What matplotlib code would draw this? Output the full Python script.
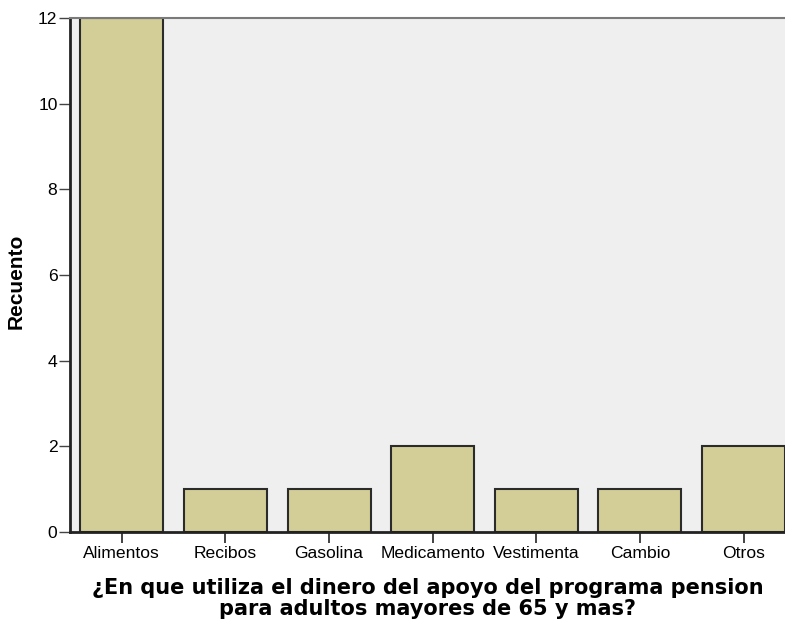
import numpy as np
import matplotlib
matplotlib.use("Agg")
import matplotlib.pyplot as plt

# uso del dinero del apoyo - recuento
categorias = ["Alimentos", "Recibos", "Gasolina", "Medicamento", "Vestimenta", "Cambio", "Otros"]
recuento = [12, 1, 1, 2, 1, 1, 2]
y_ticks = [0, 2, 4, 6, 8, 10, 12]

plt.rcParams['font.family'] = ['Liberation Sans', 'DejaVu Sans']

fig = plt.figure(figsize=(7.85, 6.21), dpi=100)
ax = fig.add_axes([70 / 785, 89 / 621, 715 / 785, 514 / 621])
ax.set_facecolor("#efefef")

x = np.arange(len(categorias))
ax.bar(x, recuento, width=0.8, color="#d3ce97", edgecolor="#2b2b2b", linewidth=1.5, zorder=2)

ax.set_xlim(-0.5, len(categorias) - 0.6)
ax.set_ylim(0, 12)
ax.set_xticks(x)
ax.set_xticklabels(categorias, fontsize=12.6)
ax.set_yticks(y_ticks)
ax.set_yticklabels([str(v) for v in y_ticks], fontsize=12.6)

ax.tick_params(axis="y", length=8, width=1, color="#444444", pad=1)
ax.tick_params(axis="x", length=8, width=1.2, color="#222222", pad=2)

for s in ["left", "bottom"]:
    ax.spines[s].set_color("#222222")
    ax.spines[s].set_linewidth(2)
ax.spines["top"].set_color("#7a7a7a")
ax.spines["top"].set_linewidth(1.5)
ax.spines["right"].set_visible(False)

ax.set_ylabel("Recuento", fontsize=15, fontweight="bold")
ax.yaxis.set_label_coords(-0.062, 0.487)

ax.set_xlabel("¿En que utiliza el dinero del apoyo del programa pension\npara adultos mayores de 65 y mas?",
              fontsize=15, fontweight="bold", family="DejaVu Sans", linespacing=1.08, labelpad=12)

fig.savefig("out.png", dpi=100)
